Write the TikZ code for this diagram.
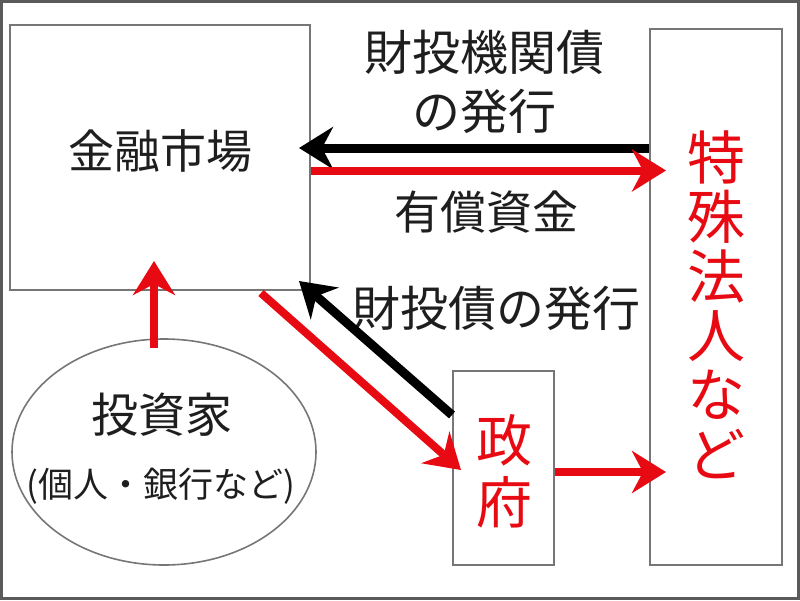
\documentclass[tikz,border=0pt]{standalone}
\usepackage{fontspec}
\setmainfont{Noto Sans CJK JP}
\usetikzlibrary{arrows.meta,shapes.geometric}
\definecolor{boxgray}{RGB}{118,118,118}
\definecolor{framegray}{RGB}{90,90,90}
\definecolor{myred}{RGB}{232,10,18}
\definecolor{txt}{RGB}{30,30,30}
\tikzset{
  box/.style={draw=boxgray,line width=2pt,rectangle,inner sep=0pt},
  lbl/.style={inner sep=0pt,text=txt,align=center},
  redarrow/.style={draw=myred,line width=8pt,-{Stealth[length=34pt,width=42pt,inset=11pt]}},
  blkarrow/.style={draw=black,line width=9pt,-{Stealth[length=34pt,width=42pt,inset=11pt]}},
}
\begin{document}
\begin{tikzpicture}[x=1pt,y=-1pt]
\useasboundingbox (0,0) rectangle (800,600);
\draw[framegray,line width=3pt] (1.5,1.5) rectangle (798.5,598.5);
% boxes
\node[box,minimum width=300pt,minimum height=265pt] (market) at (160,157.5) {};
\node[box,minimum width=132pt,minimum height=536pt] (special) at (716,297) {};
\node[box,minimum width=101pt,minimum height=194pt] (gov) at (503.5,468) {};
\node[draw=boxgray,line width=1.6pt,ellipse,minimum width=304pt,minimum height=226pt,inner sep=0pt] (inv) at (164,452) {};
% box texts
\node[lbl,font=\fontsize{46}{50}\selectfont] (tmarket) at (160,151) {金融市場};
\node[lbl,font=\fontsize{47}{50}\selectfont] (tinv) at (162,415) {投資家};
\node[lbl,font=\fontsize{35}{40}\selectfont] (tinv2) at (161,486) {(個人・銀行など)};
\node[lbl,text=myred,font=\fontsize{58}{59.4}\selectfont] (tspecial) at (716,304.5) {特\\殊\\法\\人\\な\\ど};
\node[lbl,text=myred,font=\fontsize{56}{62}\selectfont] (tgov) at (504,471) {政\\府};
% arrow labels
\node[lbl,font=\fontsize{48}{59}\selectfont] (l1) at (484,81.5) {財投機関債\\の発行};
\node[lbl,font=\fontsize{46}{50}\selectfont] (l2) at (486,212) {有償資金};
\node[lbl,font=\fontsize{48}{50}\selectfont] (l3) at (496,308) {財投債の発行};
% arrows
\coordinate (blky) at ([yshift=9.5pt]market.east);
\coordinate (redy) at ([yshift=-13pt]market.east);
\draw[blkarrow,shorten >=-12pt] (blky -| special.west) -- (blky);
\draw[redarrow,shorten >=-17pt] (redy) -- (redy -| special.west);
\draw[redarrow] ([xshift=-10pt,yshift=-10pt]inv.north) -- ([xshift=-6pt,yshift=30pt]market.south);
\draw[redarrow] ([xshift=-50pt,yshift=-2pt]market.south east) -- ([xshift=9pt,yshift=-2pt]gov.west);
\draw[blkarrow] ([yshift=53pt]gov.west) -- ([xshift=-12pt,yshift=10pt]market.south east);
\draw[redarrow,shorten >=-17pt] ([yshift=-4pt]gov.east) -- ([yshift=-4pt]gov.east -| special.west);
\end{tikzpicture}
\end{document}
